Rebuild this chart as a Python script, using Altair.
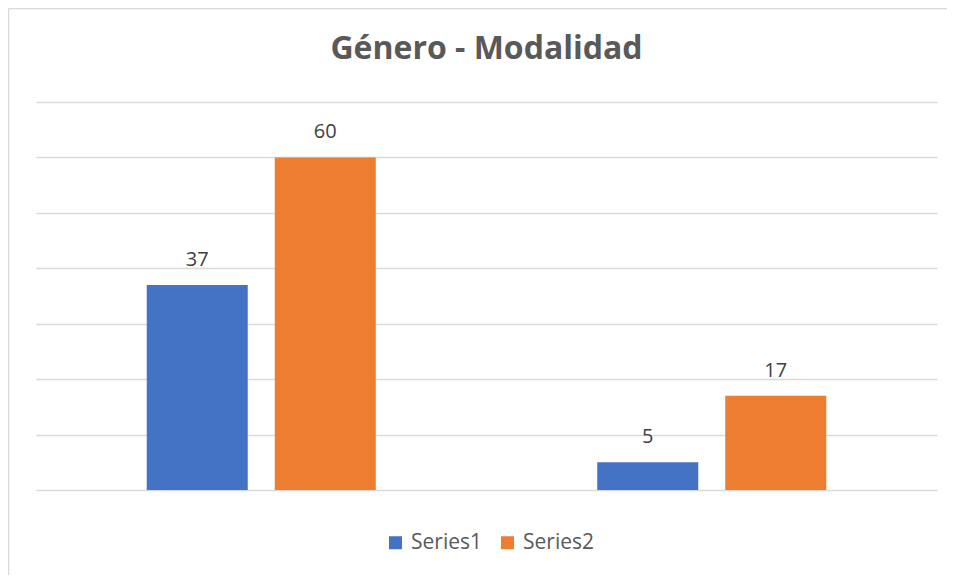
import altair as alt
import pandas as pd

categories = ["Grupo 1", "Grupo 2"]
series_names = ["Series1", "Series2"]
series1 = [37, 5]
series2 = [60, 17]
colors = ["#4472C4", "#ED7D31"]
y_ticks = [0, 10, 20, 30, 40, 50, 60, 70]
title_text = "Género - Modalidad"

rows = []
for i, c in enumerate(categories):
    rows.append({"cat": c, "series": series_names[0], "value": series1[i]})
    rows.append({"cat": c, "series": series_names[1], "value": series2[i]})
df = pd.DataFrame(rows)

FONT = "Open Sans"

base = alt.Chart(df).encode(
    x=alt.X("cat:N", axis=None, sort=categories,
            scale=alt.Scale(paddingInner=0, paddingOuter=0)),
    xOffset=alt.XOffset("series:N", sort=series_names,
                        scale=alt.Scale(paddingInner=0.211, paddingOuter=0.865)),
    y=alt.Y("value:Q",
            scale=alt.Scale(domain=[0, 70], nice=False),
            axis=alt.Axis(values=y_ticks, labels=False, ticks=False, domain=False,
                          grid=True, gridColor="#d9d9d9", gridWidth=1.5, title=None)),
)

bars = base.mark_bar().encode(
    color=alt.Color("series:N",
                    scale=alt.Scale(domain=series_names, range=colors),
                    legend=alt.Legend(orient="none", legendX=349, legendY=430,
                                      direction="horizontal", title=None,
                                      symbolType="square", symbolSize=169,
                                      symbolStrokeWidth=0, labelFontSize=21,
                                      labelFont=FONT, labelColor="#595959",
                                      labelOffset=5, columnPadding=15))
)

labels = base.mark_text(dy=-19, baseline="alphabetic", fontSize=20,
                        font=FONT, color="#404040").encode(text="value:Q")

single = pd.DataFrame({"t": [title_text]})
title = alt.Chart(single).mark_text(
    font=FONT, fontSize=32, fontWeight="bold", color="#595959",
    align="center", baseline="alphabetic").encode(
    text="t:N", x=alt.value(450.5), y=alt.value(-43))

left_border = alt.Chart(single).mark_rule(color="#d9d9d9", strokeWidth=1.5).encode(
    x=alt.value(-27.5), y=alt.value(-93.5), y2=alt.value(480))
top_border = alt.Chart(single).mark_rule(color="#d9d9d9", strokeWidth=1.5).encode(
    x=alt.value(-27.5), x2=alt.value(915), y=alt.value(-93.5))

chart = alt.layer(bars, labels, title, left_border, top_border).properties(
    width=901, height=388,
    autosize=alt.AutoSizeParams(type="none"),
    padding={"left": 28, "top": 94, "right": 10, "bottom": 85},
    background="white",
).configure_view(stroke=None)

chart.save("out.html", embed_options={"renderer": "svg", "actions": False})
